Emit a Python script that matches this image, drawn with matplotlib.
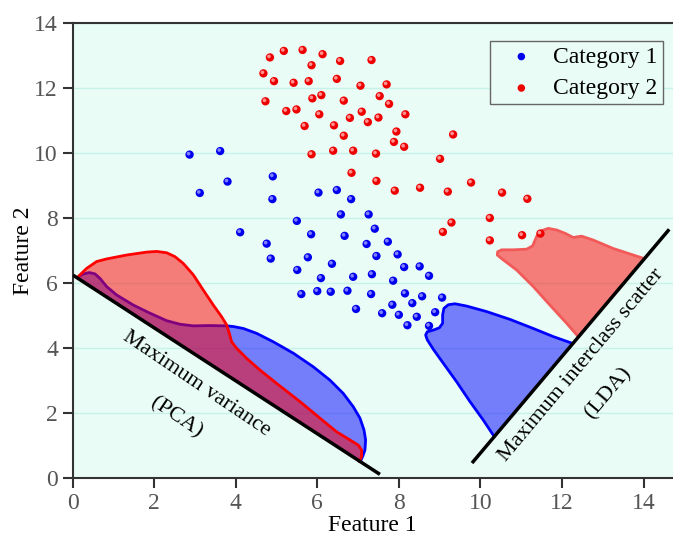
import numpy as np
import matplotlib.pyplot as plt
import matplotlib as mpl
from matplotlib.transforms import offset_copy

mpl.rcParams['font.family'] = ['Liberation Serif', 'DejaVu Serif']
mpl.rcParams['font.size'] = 17

# scatter data
blue_x = [2.87, 3.62, 3.80, 3.12, 4.91, 4.90, 4.11, 4.76, 4.86, 5.50, 6.03, 6.48, 6.83,
          6.58, 7.26, 5.85, 6.67, 7.41, 7.21, 7.73, 5.77, 6.36, 7.45, 7.97, 5.51, 6.09,
          6.88, 7.34, 7.86, 8.13, 8.51, 8.74, 5.61, 6.00, 6.33, 6.74, 7.32, 8.15, 8.57,
          9.06, 6.95, 7.84, 8.33, 7.59, 8.00, 8.44, 8.89, 8.21, 8.74]
blue_y = [9.96, 10.07, 9.13, 8.78, 9.29, 8.59, 7.57, 7.22, 6.76, 7.92, 8.79, 8.87, 8.59,
          8.12, 8.12, 7.51, 7.46, 7.68, 7.21, 7.28, 6.80, 6.60, 6.84, 6.89, 6.41, 6.16,
          6.20, 6.28, 6.08, 6.50, 6.52, 6.23, 5.67, 5.76, 5.74, 5.77, 5.67, 5.69, 5.60,
          5.56, 5.21, 5.34, 5.39, 5.08, 5.03, 4.97, 5.11, 4.71, 4.69]
red_x = [4.68, 4.84, 5.18, 5.64, 6.13, 5.86, 4.94, 5.42, 5.79, 6.48, 6.56, 4.73, 5.24,
         5.49, 5.88, 6.10, 6.05, 5.69, 6.41, 5.86, 6.39, 7.33, 7.06, 7.70, 6.65, 7.53,
         7.76, 7.09, 6.80, 7.24, 7.50, 8.16, 6.65, 7.94, 7.88, 8.13, 9.33, 6.88, 7.44,
         9.01, 6.84, 7.45, 7.90, 8.52, 9.20, 9.77, 10.53, 11.15, 10.23, 9.29, 9.08,
         10.23, 11.02, 11.47]
red_y = [12.46, 12.95, 13.15, 13.18, 13.05, 12.71, 12.22, 12.17, 12.22, 12.29, 12.84,
         11.60, 11.30, 11.35, 11.69, 11.79, 11.20, 10.84, 10.86, 9.97, 10.08, 12.87,
         12.08, 12.12, 11.62, 11.76, 11.52, 11.28, 11.09, 10.96, 11.10, 11.20, 10.54,
         10.67, 10.35, 10.20, 10.58, 10.08, 9.99, 9.83, 9.40, 9.15, 8.85, 8.94, 8.82,
         9.10, 8.79, 8.60, 8.01, 7.87, 7.58, 7.32, 7.48, 7.53]

# projection lines
pca_line_x = [0.05, 7.50]
pca_line_y = [6.22, 0.15]
lda_line_x = [9.82, 14.60]
lda_line_y = [0.51, 7.62]

# PCA distributions (closed along the PCA line)
pca_red_x = [0.118, 0.347, 0.592, 0.837, 1.328, 1.818, 2.063, 2.308, 2.512, 2.716,
             2.962, 3.207, 3.452, 3.656, 3.779, 3.844, 3.901, 4.024, 4.269, 4.596,
             5.004, 5.576, 6.066, 6.475, 6.801, 7.006, 7.087, 7.087, 7.030]
pca_red_y = [6.18, 6.46, 6.67, 6.75, 6.87, 6.96, 6.98, 6.94, 6.82, 6.61,
             6.26, 5.79, 5.33, 4.97, 4.72, 4.46, 4.20, 4.00, 3.69, 3.33,
             2.92, 2.36, 1.85, 1.43, 1.18, 1.02, 0.87, 0.67, 0.51]
pca_blue_x = [0.118, 0.265, 0.413, 0.551, 0.674, 0.837, 1.083, 1.491, 1.900, 2.308,
              2.635, 2.962, 3.370, 3.779, 3.942, 4.187, 4.514, 4.922, 5.412, 5.903,
              6.311, 6.638, 6.883, 7.047, 7.145, 7.185, 7.169, 7.112, 7.063]
pca_blue_y = [6.18, 6.29, 6.33, 6.29, 6.15, 5.90, 5.64, 5.33, 5.08, 4.85,
              4.74, 4.69, 4.70, 4.69, 4.67, 4.61, 4.46, 4.20, 3.85, 3.43,
              3.02, 2.61, 2.20, 1.85, 1.49, 1.18, 0.87, 0.67, 0.54]

# LDA distributions (closed along the LDA line)
lda_blue_x = [10.339, 10.070, 9.743, 9.416, 9.089, 8.844, 8.697, 8.656, 8.697, 8.844,
              8.991, 9.073, 9.073, 9.105, 9.212, 9.375, 9.661, 10.151, 10.723, 11.295,
              11.785, 12.259]
lda_blue_y = [1.28, 1.79, 2.36, 2.97, 3.54, 3.97, 4.26, 4.41, 4.51, 4.56,
              4.63, 4.77, 5.03, 5.23, 5.34, 5.37, 5.30, 5.13, 4.89, 4.61,
              4.36, 4.15]
lda_red_x = [12.398, 12.112, 11.703, 11.295, 10.886, 10.560, 10.413, 10.421, 10.519,
             10.805, 11.132, 11.279, 11.377, 11.499, 11.663, 11.867, 12.071, 12.275,
             12.480, 12.766, 13.256, 13.746, 13.991]
lda_red_y = [4.36, 4.77, 5.33, 5.90, 6.41, 6.72, 6.87, 6.97, 7.03,
             7.03, 7.05, 7.15, 7.44, 7.62, 7.69, 7.64, 7.54, 7.41,
             7.45, 7.33, 7.07, 6.87, 6.77]


def ball(ax, fig, x, y, color, light, label):
    ax.scatter(x, y, s=36, color=color, edgecolors='none', zorder=5, label=label)
    tr = offset_copy(ax.transData, fig=fig, x=-1.0, y=1.0, units='dots')
    ax.scatter(x, y, s=7, color=light, edgecolors='none', zorder=6, transform=tr)


fig = plt.figure(figsize=(6.73, 5.36), dpi=100)
ax = fig.add_axes([72.5/673, 57.7/536, (673-72.5)/673, 455.0/536])
ax.set_facecolor('#eafcf6')

line_kw = dict(lw=2, solid_joinstyle='round', solid_capstyle='round')
ax.fill(pca_blue_x, pca_blue_y, color='#0000ff', alpha=0.5, lw=0, zorder=2)
ax.plot(pca_blue_x, pca_blue_y, color='#0000ff', zorder=2, **line_kw)
ax.fill(pca_red_x, pca_red_y, color='#ff0000', alpha=0.5, lw=0, zorder=3)
ax.plot(pca_red_x, pca_red_y, color='#ff0000', zorder=3, **line_kw)

ax.fill(lda_blue_x, lda_blue_y, color='#0000ff', alpha=0.5, lw=0, zorder=2)
ax.plot(lda_blue_x, lda_blue_y, color='#0000ff', zorder=2, **line_kw)
ax.fill(lda_red_x, lda_red_y, color='#ff0000', alpha=0.5, lw=0, zorder=2)
ax.plot(lda_red_x, lda_red_y, color='#f25a5a', zorder=2, **line_kw)

ax.plot(pca_line_x, pca_line_y, 'k-', lw=2.5, zorder=4)
ax.plot(lda_line_x, lda_line_y, 'k-', lw=2.5, zorder=4)

ball(ax, fig, blue_x, blue_y, '#0000ee', '#8080ff', 'Category 1')
ball(ax, fig, red_x, red_y, '#ee0000', '#ff9090', 'Category 2')

ax.text(3.04, 2.92, 'Maximum variance', rotation=-34, ha='center', va='center',
        rotation_mode='anchor', zorder=7, fontsize=16)
ax.text(2.55, 1.85, '(PCA)', rotation=-34, ha='center', va='center',
        rotation_mode='anchor', zorder=7, fontsize=16)
ax.text(12.48, 3.49, 'Maximum interclass scatter', rotation=50, ha='center', va='center',
        rotation_mode='anchor', zorder=7, fontsize=16)
ax.text(13.13, 2.62, '(LDA)', rotation=50, ha='center', va='center',
        rotation_mode='anchor', zorder=7, fontsize=16)

ax.set_xlim(0, 14.72)
ax.set_ylim(0, 14)
ax.set_xticks(np.arange(0, 15, 2))
ax.set_yticks(np.arange(0, 15, 2))
ax.yaxis.grid(True, color='#c6f2e8', lw=1)
ax.set_axisbelow(True)
ax.spines['right'].set_visible(False)
for s in ['left', 'bottom', 'top']:
    ax.spines[s].set_color('#333333')
    ax.spines[s].set_linewidth(1.5)
ax.tick_params(direction='out', length=7, width=1.5, color='#333333', labelcolor='#555555')
ax.set_xlabel('Feature 1', labelpad=1)
ax.set_ylabel('Feature 2', labelpad=0)

handles, labels = ax.get_legend_handles_labels()
leg = ax.legend(handles[:2], labels[:2], loc='upper right', bbox_to_anchor=(0.983, 0.961),
                fancybox=False, framealpha=1, facecolor='#eafcf6', edgecolor='#666666',
                markerscale=0.9, handletextpad=0.25, borderpad=0.22, labelspacing=0.42,
                handlelength=2.2, borderaxespad=0.0)
leg.get_frame().set_linewidth(1.0)

fig.savefig('out.png', dpi=100)
